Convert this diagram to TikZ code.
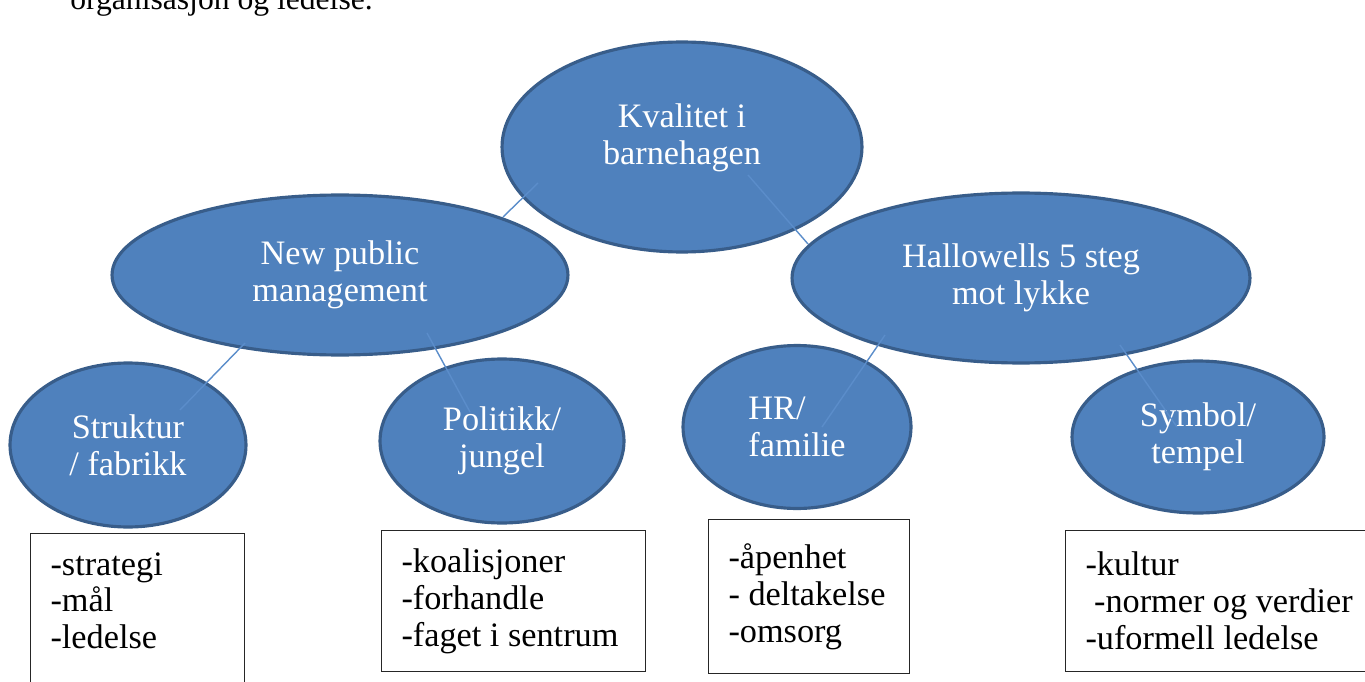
\documentclass[tikz,border=0pt]{standalone}
\usepackage{fontspec}
\setmainfont{Liberation Serif}
\usetikzlibrary{shapes.geometric,calc}

\definecolor{bubblefill}{HTML}{4F81BD}
\definecolor{bubbleedge}{HTML}{385D8A}
\definecolor{linkblue}{HTML}{5B8DCA}

\tikzset{
  bubble/.style={ellipse, draw=bubbleedge, line width=1.8pt, fill=bubblefill,
    text=white, align=center, inner sep=0pt, font=\fontsize{19.5}{21}\selectfont},
  listbox/.style={draw=black!85, line width=0.6pt, fill=white, anchor=north west,
    align=flush left, inner xsep=0.4cm, inner ysep=0pt, font=\fontsize{19.5}{21}\selectfont},
  link/.style={draw=linkblue, line width=0.8pt}
}

\begin{document}
\begin{tikzpicture}[x=0.02cm, y=-0.02cm]
    % Frame of the page
    \useasboundingbox (0,0) rectangle (1365,682);

    % Text line above the chart
    \node[anchor=base west, inner sep=0pt, font=\fontsize{18}{21}\selectfont] (intro) at (70,9.5) {organisasjon og ledelse.};

    % The bubbles
    \node[bubble, minimum width=7.2cm, minimum height=4.2cm, text depth=15pt] (kvalitet) at (682,147) {Kvalitet i\\barnehagen};
    \node[bubble, minimum width=9.12cm, minimum height=3.2cm] (npm) at (340,275) {New public\\management};
    \node[bubble, minimum width=9.16cm, minimum height=3.4cm] (hallowell) at (1021,278) {Hallowells 5 steg\\mot lykke};
    \node[bubble, minimum width=4.72cm, minimum height=3.28cm] (struktur) at (128,445) {Struktur\\/ fabrikk};
    \node[bubble, minimum width=4.88cm, minimum height=3.28cm] (politikk) at (502,441) {Politikk/\\jungel};
    \node[bubble, minimum width=4.56cm, minimum height=3.26cm, align=left] (hr) at (797,427) {HR/\\familie};
    \node[bubble, minimum width=5.04cm, minimum height=3.04cm] (symbol) at (1198,437) {Symbol/\\tempel};

    % Lines between the bubbles
    \draw[link] ($(kvalitet)+(-144,36)$) -- ($(npm)+(163,-58)$);
    \draw[link] ($(kvalitet)+(66,28)$) -- ($(hallowell)+(-213,-34)$);
    \draw[link] ($(npm)+(-95,68)$) -- ($(struktur)+(52,-35)$);
    \draw[link] ($(npm)+(87,58)$) -- ($(politikk)+(-32,-29)$);
    \draw[link] ($(hallowell)+(-136,57)$) -- ($(hr)+(25,0)$);
    \draw[link] ($(hallowell)+(99,67)$) -- ($(symbol)+(-21,-10)$);

    % Boxes with key words
    \node[listbox, text width=3.48cm, minimum height=3.42cm] (strukturlist) at (30,533) {-strategi\\-mål\\-ledelse\\~};
    \node[listbox, text width=4.48cm, minimum height=2.82cm] (politikklist) at (381,530) {-koalisjoner\\-forhandle\\-faget i sentrum};
    \node[listbox, text width=3.22cm, minimum height=3.08cm] (hrlist) at (708,519) {-åpenhet\\- deltakelse\\-omsorg};
    \node[listbox, text width=5.6cm, minimum height=2.82cm] (symbollist) at (1065,530) {-kultur\\\hspace*{0.25em}-normer og verdier\\-uformell ledelse};
\end{tikzpicture}
\end{document}
